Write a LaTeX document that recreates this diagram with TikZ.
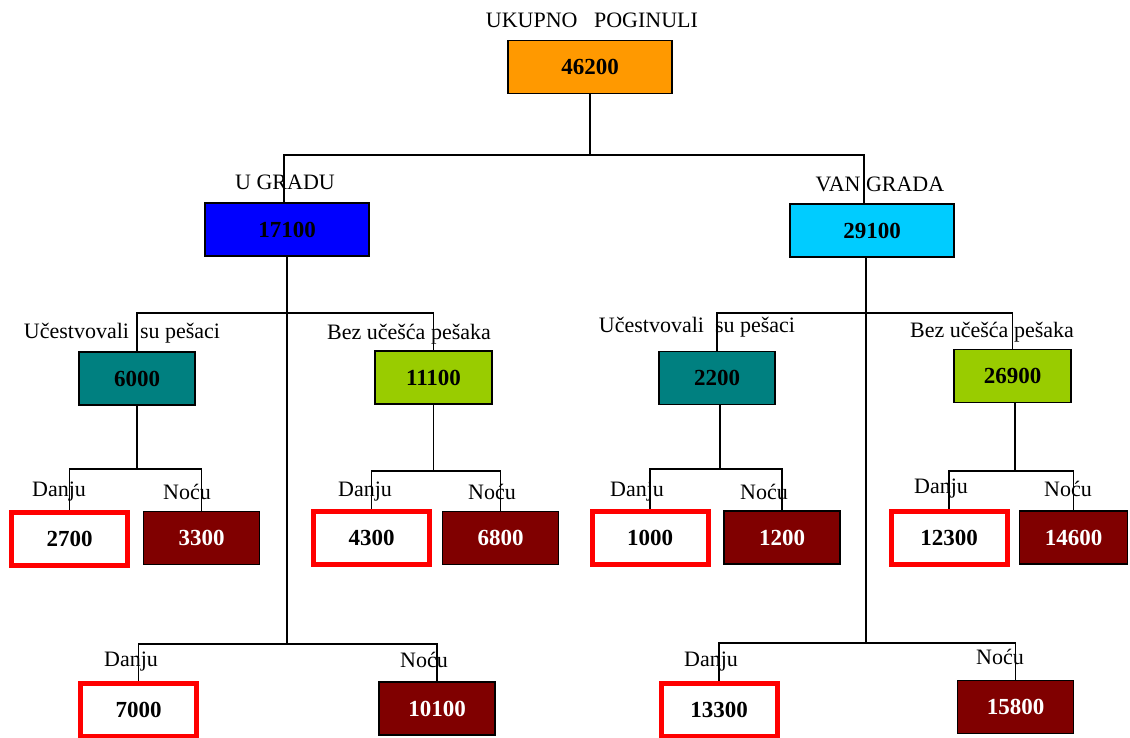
\documentclass[tikz,border=0pt]{standalone}
\usepackage{fontspec}
\setmainfont{Liberation Serif}
\usetikzlibrary{positioning}
\definecolor{totorange}{HTML}{FF9900}
\definecolor{cityblue}{HTML}{0000FF}
\definecolor{outcyan}{HTML}{00CCFF}
\definecolor{pedteal}{HTML}{008080}
\definecolor{nopedgreen}{HTML}{99CC00}
\definecolor{nightred}{HTML}{800000}
\definecolor{dayred}{HTML}{FF0000}

\begin{document}
\begin{tikzpicture}[
  x=1pt, y=-1pt,
  font=\fontsize{22}{26}\selectfont,
  num/.style={draw, line width=1.7pt, inner sep=0pt, minimum width=116pt,
              minimum height=53pt, font=\fontsize{23}{27}\selectfont\bfseries},
  wide/.style={num, minimum width=164pt},
  day/.style={num, draw=dayred, line width=5pt, fill=white},
  night/.style={num, fill=nightred, text=white},
  lbl/.style={inner sep=0pt},
  link/.style={line width=1.4pt}
]
\useasboundingbox (0,0) rectangle (1130,738);

\node[lbl] (ttot) at (592,20) {UKUPNO\ \ \ POGINULI};
\node[wide, fill=totorange] (tot) at (590,67) {46200};

\node[lbl] (tugr) at (285,182) {U GRADU};
\node[wide, fill=cityblue] (ugr) at (287,229.5) {17100};
\node[lbl] (tvgr) at (880,184) {VAN GRADA};
\node[wide, fill=outcyan] (vgr) at (872,230.5) {29100};

\node[lbl] (tuc1) at (122,333) {Učestvovali\ \ su pešaci};
\node[num, fill=pedteal] (uc1) at (137,378.5) {6000};
\node[lbl] (tbez1) at (409,334) {Bez učešća pešaka};
\node[num, fill=nopedgreen, minimum width=117pt] (bez1) at (433.5,377.5) {11100};
\node[lbl] (tuc2) at (697,327) {Učestvovali\ \ su pešaci};
\node[num, fill=pedteal] (uc2) at (717,378) {2200};
\node[lbl] (tbez2) at (992,332) {Bez učešća pešaka};
\node[num, fill=nopedgreen, minimum width=117pt] (bez2) at (1012.5,376) {26900};

\node[lbl] (td1) at (59,492) {Danju};
\node[lbl] (tn1) at (187,492) {Noću};
\node[day] (d1) at (69.5,538.5) {2700};
\node[night] (n1) at (201.5,538) {3300};
\node[lbl] (td2) at (365,492) {Danju};
\node[lbl] (tn2) at (492,492) {Noću};
\node[day] (d2) at (371.5,538) {4300};
\node[night] (n2) at (500.5,538) {6800};
\node[lbl] (td3) at (637,492) {Danju};
\node[lbl] (tn3) at (764,492) {Noću};
\node[day] (d3) at (650,537.5) {1000};
\node[night] (n3) at (782,537.5) {1200};
\node[lbl] (td4) at (941,489) {Danju};
\node[lbl] (tn4) at (1068,489) {Noću};
\node[day] (d4) at (949,537.5) {12300};
\node[night, minimum width=108pt] (n4) at (1073.5,537.5) {14600};

\node[lbl] (td5) at (131,662) {Danju};
\node[lbl] (tn5) at (424,660) {Noću};
\node[day] (d5) at (138.5,710) {7000};
\node[night] (n5) at (437,708.5) {10100};
\node[lbl] (td6) at (711,662) {Danju};
\node[lbl] (tn6) at (1000,657) {Noću};
\node[day] (d6) at (719,710) {13300};
\node[night] (n6) at (1015.5,707) {15800};

\coordinate (j0) at (590,155);
\coordinate (ju) at (286,313);
\coordinate (jv) at (866,313);
\coordinate (ku) at (287,644);
\coordinate (kv) at (866,643);
\coordinate (j1) at (137,469);
\coordinate (j2) at (433.5,471);
\coordinate (j3) at (720,469);
\coordinate (j4) at (1015,471);

\draw[link] (tot.south) -- (j0);
\draw[link] ([xshift=-3pt]ugr.north) |- (j0) -| ([xshift=-8pt]vgr.north);
\draw[link] (ugr.south) -- (ku);
\draw[link] ([xshift=-6pt]vgr.south) -- (kv);
\draw[link] (uc1.north) |- (ju) -| (bez1.north);
\draw[link] (uc2.north) |- (jv) -| (bez2.north);
\draw[link] (uc1.south) -- (j1);
\draw[link] (d1.north) |- (j1) -| (n1.north);
\draw[link] (bez1.south) -- (j2);
\draw[link] (d2.north) |- (j2) -| (n2.north);
\draw[link] ([xshift=3pt]uc2.south) -- (j3);
\draw[link] (d3.north) |- (j3) -| (n3.north);
\draw[link] ([xshift=2.5pt]bez2.south) -- (j4);
\draw[link] (d4.north) |- (j4) -| (n4.north);
\draw[link] (d5.north) |- (ku) -| (n5.north);
\draw[link] (d6.north) |- (kv) -| (n6.north);
\end{tikzpicture}
\end{document}
